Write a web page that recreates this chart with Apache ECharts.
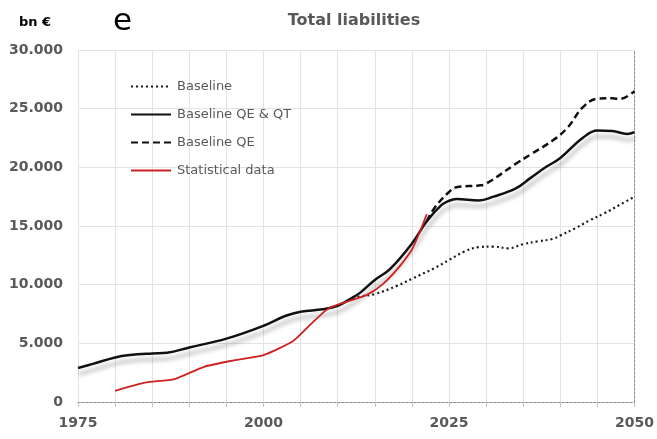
<!DOCTYPE html>
<html>
<head>
<meta charset="utf-8">
<script src="https://cdn.jsdelivr.net/npm/echarts@6/dist/echarts.min.js"></script>
<style>
    html, body { margin: 0; padding: 0; background: #fff; }
    #echart1 { width: 657px; height: 439px; }
</style>
</head>
<body>
<div id="echart1"></div>
<script>
// 数据
var baseYears = [2012, 2013, 2015, 2018, 2020, 2023, 2025, 2027, 2029, 2031, 2033, 2035, 2037, 2039, 2040, 2042, 2044, 2046, 2048, 2050];
var baseVals = [8900, 9000, 9200, 9900, 10500, 11400, 12100, 12800, 13200, 13250, 13100, 13450, 13700, 13900, 14200, 14800, 15500, 16100, 16800, 17500];

var qtYears = [1975, 1977, 1980, 1982, 1985, 1987, 1990, 1995, 2000, 2003, 2005, 2008, 2010, 2012, 2013, 2015, 2017, 2020, 2022, 2024, 2025, 2026, 2029, 2031, 2034, 2036, 2038, 2040, 2043, 2045, 2047, 2049, 2050];
var qtVals = [2900, 3250, 3800, 4000, 4140, 4200, 4650, 5400, 6500, 7350, 7700, 7900, 8200, 8900, 9300, 10400, 11300, 13500, 15400, 16800, 17150, 17300, 17180, 17500, 18200, 19100, 20000, 20800, 22500, 23130, 23100, 22850, 23000];

var qeYears = [2022, 2023, 2025, 2026, 2029, 2030, 2034, 2036, 2039, 2041, 2043, 2045, 2047, 2048, 2050];
var qeVals = [15400, 16500, 17900, 18300, 18450, 18600, 20300, 21100, 22300, 23400, 25100, 25850, 25880, 25830, 26500];

var statYears = [1980, 1984, 1988, 1992, 1996, 2000, 2004, 2006, 2008, 2009, 2010, 2012, 2014, 2016, 2018, 2020, 2021, 2022];
var statVals = [950, 1650, 1950, 3000, 3550, 4000, 5200, 6400, 7600, 8050, 8300, 8700, 9150, 10000, 11300, 13000, 14400, 16000];

var xTicks = [1975, 2000, 2025, 2050];

function zip(xs, ys) {
    var out = [];
    for (var i = 0; i < xs.length; i++) out.push([xs[i], ys[i]]);
    return out;
}

(function () {
    var myChart = echarts.init(document.getElementById('echart1'));
    var grey = '#595959';
    var font = 'DejaVu Sans';

    option = {
        animation: false,
        backgroundColor: '#fff',
        title: [{
            text: 'Total liabilities',
            left: 349, top: 8, textAlign: 'center',
            textStyle: { color: grey, fontSize: 16, fontWeight: 'bold', fontFamily: font }
        }, {
            text: 'e',
            left: 108, top: 1,
            textStyle: { color: '#000', fontSize: 31, fontWeight: 'normal', fontFamily: font }
        }, {
            text: 'bn €',
            left: 14, top: 11,
            textStyle: { color: '#000', fontSize: 13, fontWeight: 'bold', fontFamily: font }
        }],
        legend: {
            orient: 'vertical',
            left: 125, top: 75,
            itemWidth: 40, itemHeight: 14, itemGap: 15,
            itemStyle: { opacity: 0 },
            textStyle: { color: grey, fontSize: 13, fontFamily: font, padding: [0, 0, 0, 1] },
            data: ['Baseline', 'Baseline QE & QT', 'Baseline QE', 'Statistical data']
        },
        grid: { left: 78, right: 21, top: 50, bottom: 37 },
        xAxis: [{
            type: 'value', min: 1975, max: 2050, interval: 5,
            axisLine: { show: true, lineStyle: { color: '#d9d9d9' } },
            axisTick: { show: true, length: 5, lineStyle: { color: '#bfbfbf' } },
            axisLabel: {
                color: grey, fontSize: 14, fontWeight: 'bold', fontFamily: font, margin: 14,
                formatter: function (v) { return xTicks.indexOf(v) >= 0 ? String(v) : ''; }
            },
            splitLine: { show: true, lineStyle: { color: '#e3e3e3' } }
        }, {
            type: 'value', min: 1975, max: 2050, position: 'top',
            axisLine: { show: true, lineStyle: { color: '#8c8c8c', type: [2, 2] } },
            axisTick: { show: false }, axisLabel: { show: false }, splitLine: { show: false }
        }],
        yAxis: [{
            type: 'value', min: 0, max: 30000, interval: 5000,
            axisLine: { show: false },
            axisTick: { show: false },
            axisLabel: {
                color: grey, fontSize: 14, fontWeight: 'bold', fontFamily: font, margin: 15,
                formatter: function (v) { return String(v).replace(/\B(?=(\d{3})+(?!\d))/g, '.'); }
            },
            splitLine: { show: true, lineStyle: { color: '#e3e3e3' } }
        }, {
            type: 'value', min: 0, max: 30000, position: 'right',
            axisLine: { show: true, lineStyle: { color: '#8c8c8c', type: [2, 2] } },
            axisTick: { show: false }, axisLabel: { show: false }, splitLine: { show: false }
        }],
        series: [{
            name: 'Baseline',
            type: 'line', symbol: 'none', smooth: 0.4,
            lineStyle: { color: '#1a1a1a', width: 2.2, type: [2, 3] },
            itemStyle: { color: '#1a1a1a' },
            data: zip(baseYears, baseVals)
        }, {
            name: 'Baseline QE & QT',
            type: 'line', symbol: 'none', smooth: 0.4,
            lineStyle: {
                color: '#111', width: 2.5,
                shadowColor: 'rgba(0,0,0,0.3)', shadowBlur: 4, shadowOffsetY: 6, shadowOffsetX: 1
            },
            itemStyle: { color: '#111' },
            data: zip(qtYears, qtVals)
        }, {
            name: 'Baseline QE',
            type: 'line', symbol: 'none', smooth: 0.4,
            lineStyle: { color: '#111', width: 2.5, type: [7, 4] },
            itemStyle: { color: '#111' },
            data: zip(qeYears, qeVals)
        }, {
            name: 'Statistical data',
            type: 'line', symbol: 'none', smooth: 0.2,
            lineStyle: { color: '#cc2222', width: 1.8 },
            itemStyle: { color: '#cc2222' },
            data: zip(statYears, statVals)
        }]
    };

    myChart.setOption(option);
    window.addEventListener("resize", function () {
        myChart.resize();
    });
})();
</script>
</body>
</html>
